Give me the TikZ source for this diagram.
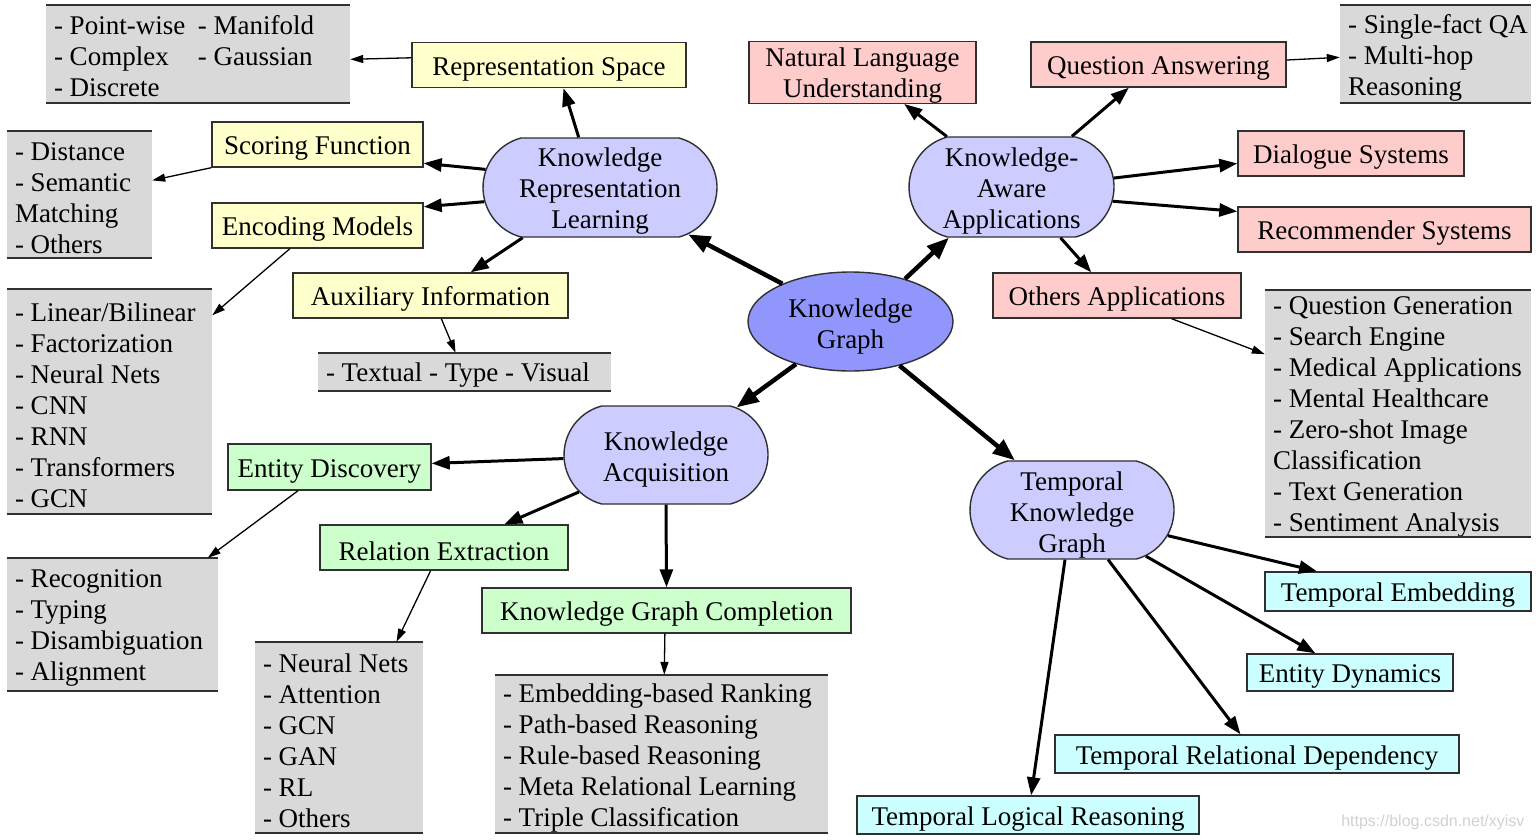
\documentclass[tikz,border=0pt]{standalone}
\usepackage{fontspec}
\setmainfont{Liberation Serif}
\newfontfamily\wmfont{Liberation Sans}
\usetikzlibrary{arrows.meta,shapes.misc,shapes.geometric}
\definecolor{cyel}{HTML}{FFFFCC}
\definecolor{cpink}{HTML}{FFCCCC}
\definecolor{cgreen}{HTML}{CCFFCC}
\definecolor{ccyan}{HTML}{CCFFFF}
\definecolor{cblue}{HTML}{CCCCFF}
\definecolor{ckg}{HTML}{9196FC}
\definecolor{cgray}{HTML}{D9D9D9}
\definecolor{cline}{HTML}{303030}
\tikzset{
  box/.style={draw=cline, line width=1.4, inner sep=0, align=center, text height=26},
  ybox/.style={box, fill=cyel},
  pbox/.style={box, fill=cpink},
  gnbox/.style={box, fill=cgreen},
  cbox/.style={box, fill=ccyan},
  bluenode/.style={rounded rectangle, rounded rectangle arc length=150, draw=cline, line width=1.4, fill=cblue, align=center, inner sep=0},
  kgnode/.style={ellipse, draw=cline, line width=1.4, fill=ckg, align=center, inner sep=0},
  gbox/.style={fill=cgray, inner sep=0},
  gtext/.style={anchor=west, inner xsep=8, inner ysep=0, align=left, yshift=-3.5},
  grule/.style={draw=cline, line width=2},
  bigarr/.style={-{Triangle[length=22,width=17]}, line width=4.5},
  midarr/.style={-{Triangle[length=18,width=13]}, line width=3},
  thinarr/.style={-{Triangle[length=13,width=8]}, line width=1.3},
}
\begin{document}
\begin{tikzpicture}[x=1pt,y=-1pt, font=\fontsize{27}{31}\selectfont]
\useasboundingbox (0,0) rectangle (1536,840);

% ---------- gray boxes ----------
\node[gbox, minimum width=304, minimum height=98] (g1) at (198,54) {};
\node[gtext, yshift=1.5] (g1t) at (g1.west) {\makebox[144pt][l]{- Point-wise}- Manifold\\\makebox[144pt][l]{- Complex}- Gaussian\\- Discrete};
\node[gbox, minimum width=145, minimum height=127] (g2) at (79.5,194.5) {};
\node[gtext] (g2t) at (g2.west) {- Distance\\- Semantic\\Matching\\- Others};
\node[gbox, minimum width=205, minimum height=225] (g3) at (109.5,401.5) {};
\node[gtext] (g3t) at (g3.west) {- Linear/Bilinear\\- Factorization\\- Neural Nets\\- CNN\\- RNN\\- Transformers\\- GCN};
\node[gbox, minimum width=293, minimum height=38] (g4) at (464.5,372) {};
\node[gtext] (g4t) at (g4.west) {- Textual - Type - Visual};
\node[gbox, minimum width=211, minimum height=133] (g5) at (112.5,624.5) {};
\node[gtext] (g5t) at (g5.west) {- Recognition\\- Typing\\- Disambiguation\\- Alignment};
\node[gbox, minimum width=168, minimum height=191] (g6) at (339,737.5) {};
\node[gtext] (g6t) at (g6.west) {- Neural Nets\\- Attention\\- GCN\\- GAN\\- RL\\- Others};
\node[gbox, minimum width=333, minimum height=158] (g7) at (661.5,754) {};
\node[gtext] (g7t) at (g7.west) {- Embedding-based Ranking\\- Path-based Reasoning\\- Rule-based Reasoning\\- Meta Relational Learning\\- Triple Classification};
\node[gbox, minimum width=191, minimum height=98] (g8) at (1435.5,54) {};
\node[gtext] (g8t) at (g8.west) {- Single-fact QA\\- Multi-hop\\Reasoning};
\node[gbox, minimum width=266, minimum height=247] (g9) at (1398,413.5) {};
\node[gtext] (g9t) at (g9.west) {- Question Generation\\- Search Engine\\- Medical Applications\\- Mental Healthcare\\- Zero-shot Image\\Classification\\- Text Generation\\- Sentiment Analysis};
\foreach \g in {g1,g2,g3,g4,g5,g6,g7,g8,g9}{
  \draw[grule] (\g.north west) -- (\g.north east);
  \draw[grule] (\g.south west) -- (\g.south east);
}

% ---------- colored boxes ----------
\node[ybox, minimum width=274, minimum height=45] (repspace) at (549,65) {Representation Space};
\node[ybox, minimum width=211, minimum height=45] (scoring) at (317.5,144.5) {Scoring Function};
\node[ybox, minimum width=211, minimum height=45] (encoding) at (317.5,225.5) {Encoding Models};
\node[ybox, minimum width=275, minimum height=45] (aux) at (430.5,295.5) {Auxiliary Information};

\node[pbox, minimum width=227, minimum height=61, text height=55.6] (nlu) at (862.5,72.5) {Natural Language\\Understanding};
\node[pbox, minimum width=255, minimum height=45] (qa) at (1158.5,64.5) {Question Answering};
\node[pbox, minimum width=226, minimum height=45] (dialog) at (1351,153.5) {Dialogue Systems};
\node[pbox, minimum width=293, minimum height=45] (recsys) at (1384.5,229.5) {Recommender Systems};
\node[pbox, minimum width=248, minimum height=45] (othersapp) at (1117,295.5) {Others Applications};

\node[gnbox, minimum width=203, minimum height=46] (entdisc) at (329.5,467) {Entity Discovery};
\node[gnbox, minimum width=248, minimum height=45] (relext) at (444,547.5) {Relation Extraction};
\node[gnbox, minimum width=369, minimum height=45] (kgc) at (666.5,610.5) {Knowledge Graph Completion};

\node[cbox, minimum width=266, minimum height=39] (tempemb) at (1398,591.5) {Temporal Embedding};
\node[cbox, minimum width=206, minimum height=37] (entdyn) at (1350,672.5) {Entity Dynamics};
\node[cbox, minimum width=404, minimum height=38] (trd) at (1257,754) {Temporal Relational Dependency};
\node[cbox, minimum width=342, minimum height=38] (tlr) at (1028,815) {Temporal Logical Reasoning};

% ---------- main nodes ----------
\node[bluenode, minimum width=234, minimum height=99, text height=88.6] (krl) at (600,187.5) {Knowledge\\Representation\\Learning};
\node[bluenode, minimum width=205, minimum height=100, text height=88.6] (kaa) at (1011.5,187) {Knowledge-\\Aware\\Applications};
\node[bluenode, minimum width=204, minimum height=98, text height=59.6] (ka) at (666,455) {Knowledge\\Acquisition};
\node[bluenode, minimum width=204, minimum height=98, text height=90.6] (tkg) at (1072,510) {Temporal\\Knowledge\\Graph};
\node[kgnode, minimum width=205, minimum height=99, text height=59.6] (kg) at (850.5,321.5) {Knowledge\\Graph};

% ---------- arrows ----------
\draw[bigarr] (kg.151.6) -- (krl.332);
\draw[bigarr] (kg.38.9) -- (kaa.219.7);
\draw[bigarr] (kg.218.1) -- (ka.34.8);
\draw[bigarr] (kg.318.5) -- (tkg.139.6);

\draw[midarr] (krl.113.7) -- (repspace.302.5);
\draw[midarr] (krl.171.3) -- (scoring.350.8);
\draw[midarr] (krl.187.2) -- (encoding.10.2);
\draw[midarr] (krl.213.3) -- (aux.30.8);

\draw[midarr] (kaa.142.2) -- (nlu.323.5);
\draw[midarr] (kaa.40.5) -- (qa.218.5);
\draw[midarr] (kaa.5.6) -- (dialog.185.8);
\draw[midarr] (kaa.352.8) -- (recsys.173.6);
\draw[midarr] (kaa.314.7) -- (othersapp.138);

\draw[midarr] (ka.182.8) -- (entdisc.2.2);
\draw[midarr] (ka.203.2) -- (relext.21.2);
\draw[midarr] (ka.south) -- (kgc.north);

\draw[midarr] (tkg.345.4) -- (tempemb.166);
\draw[midarr] (tkg.328.4) -- (entdyn.151.4);
\draw[midarr] (tkg.306.7) -- (trd.130.1);
\draw[midarr] (tkg.262.2) -- (tlr.81);

\draw[thinarr] (repspace.177.9) -- (g1.358.5);
\draw[thinarr] (scoring.south west) -- (g2.11.6);
\draw[thinarr] (encoding.220.3) -- (g3.40.6);
\draw[thinarr] (aux.295) -- (g4.115.4);
\draw[thinarr] (entdisc.217) -- (g5.35.8);
\draw[thinarr] (relext.240) -- (g6.59.4);
\draw[thinarr] (kgc.266.2) -- (g7.88.2);
\draw[thinarr] (qa.2) -- (g8.182.3);
\draw[thinarr] (othersapp.337.4) -- (g9.156.9);

% watermark
\node[font=\wmfont\fontsize{16}{20}\selectfont, text=black!18, anchor=east] (wm) at (1528,822) {https://blog.csdn.net/xyisv};
\end{tikzpicture}
\end{document}
